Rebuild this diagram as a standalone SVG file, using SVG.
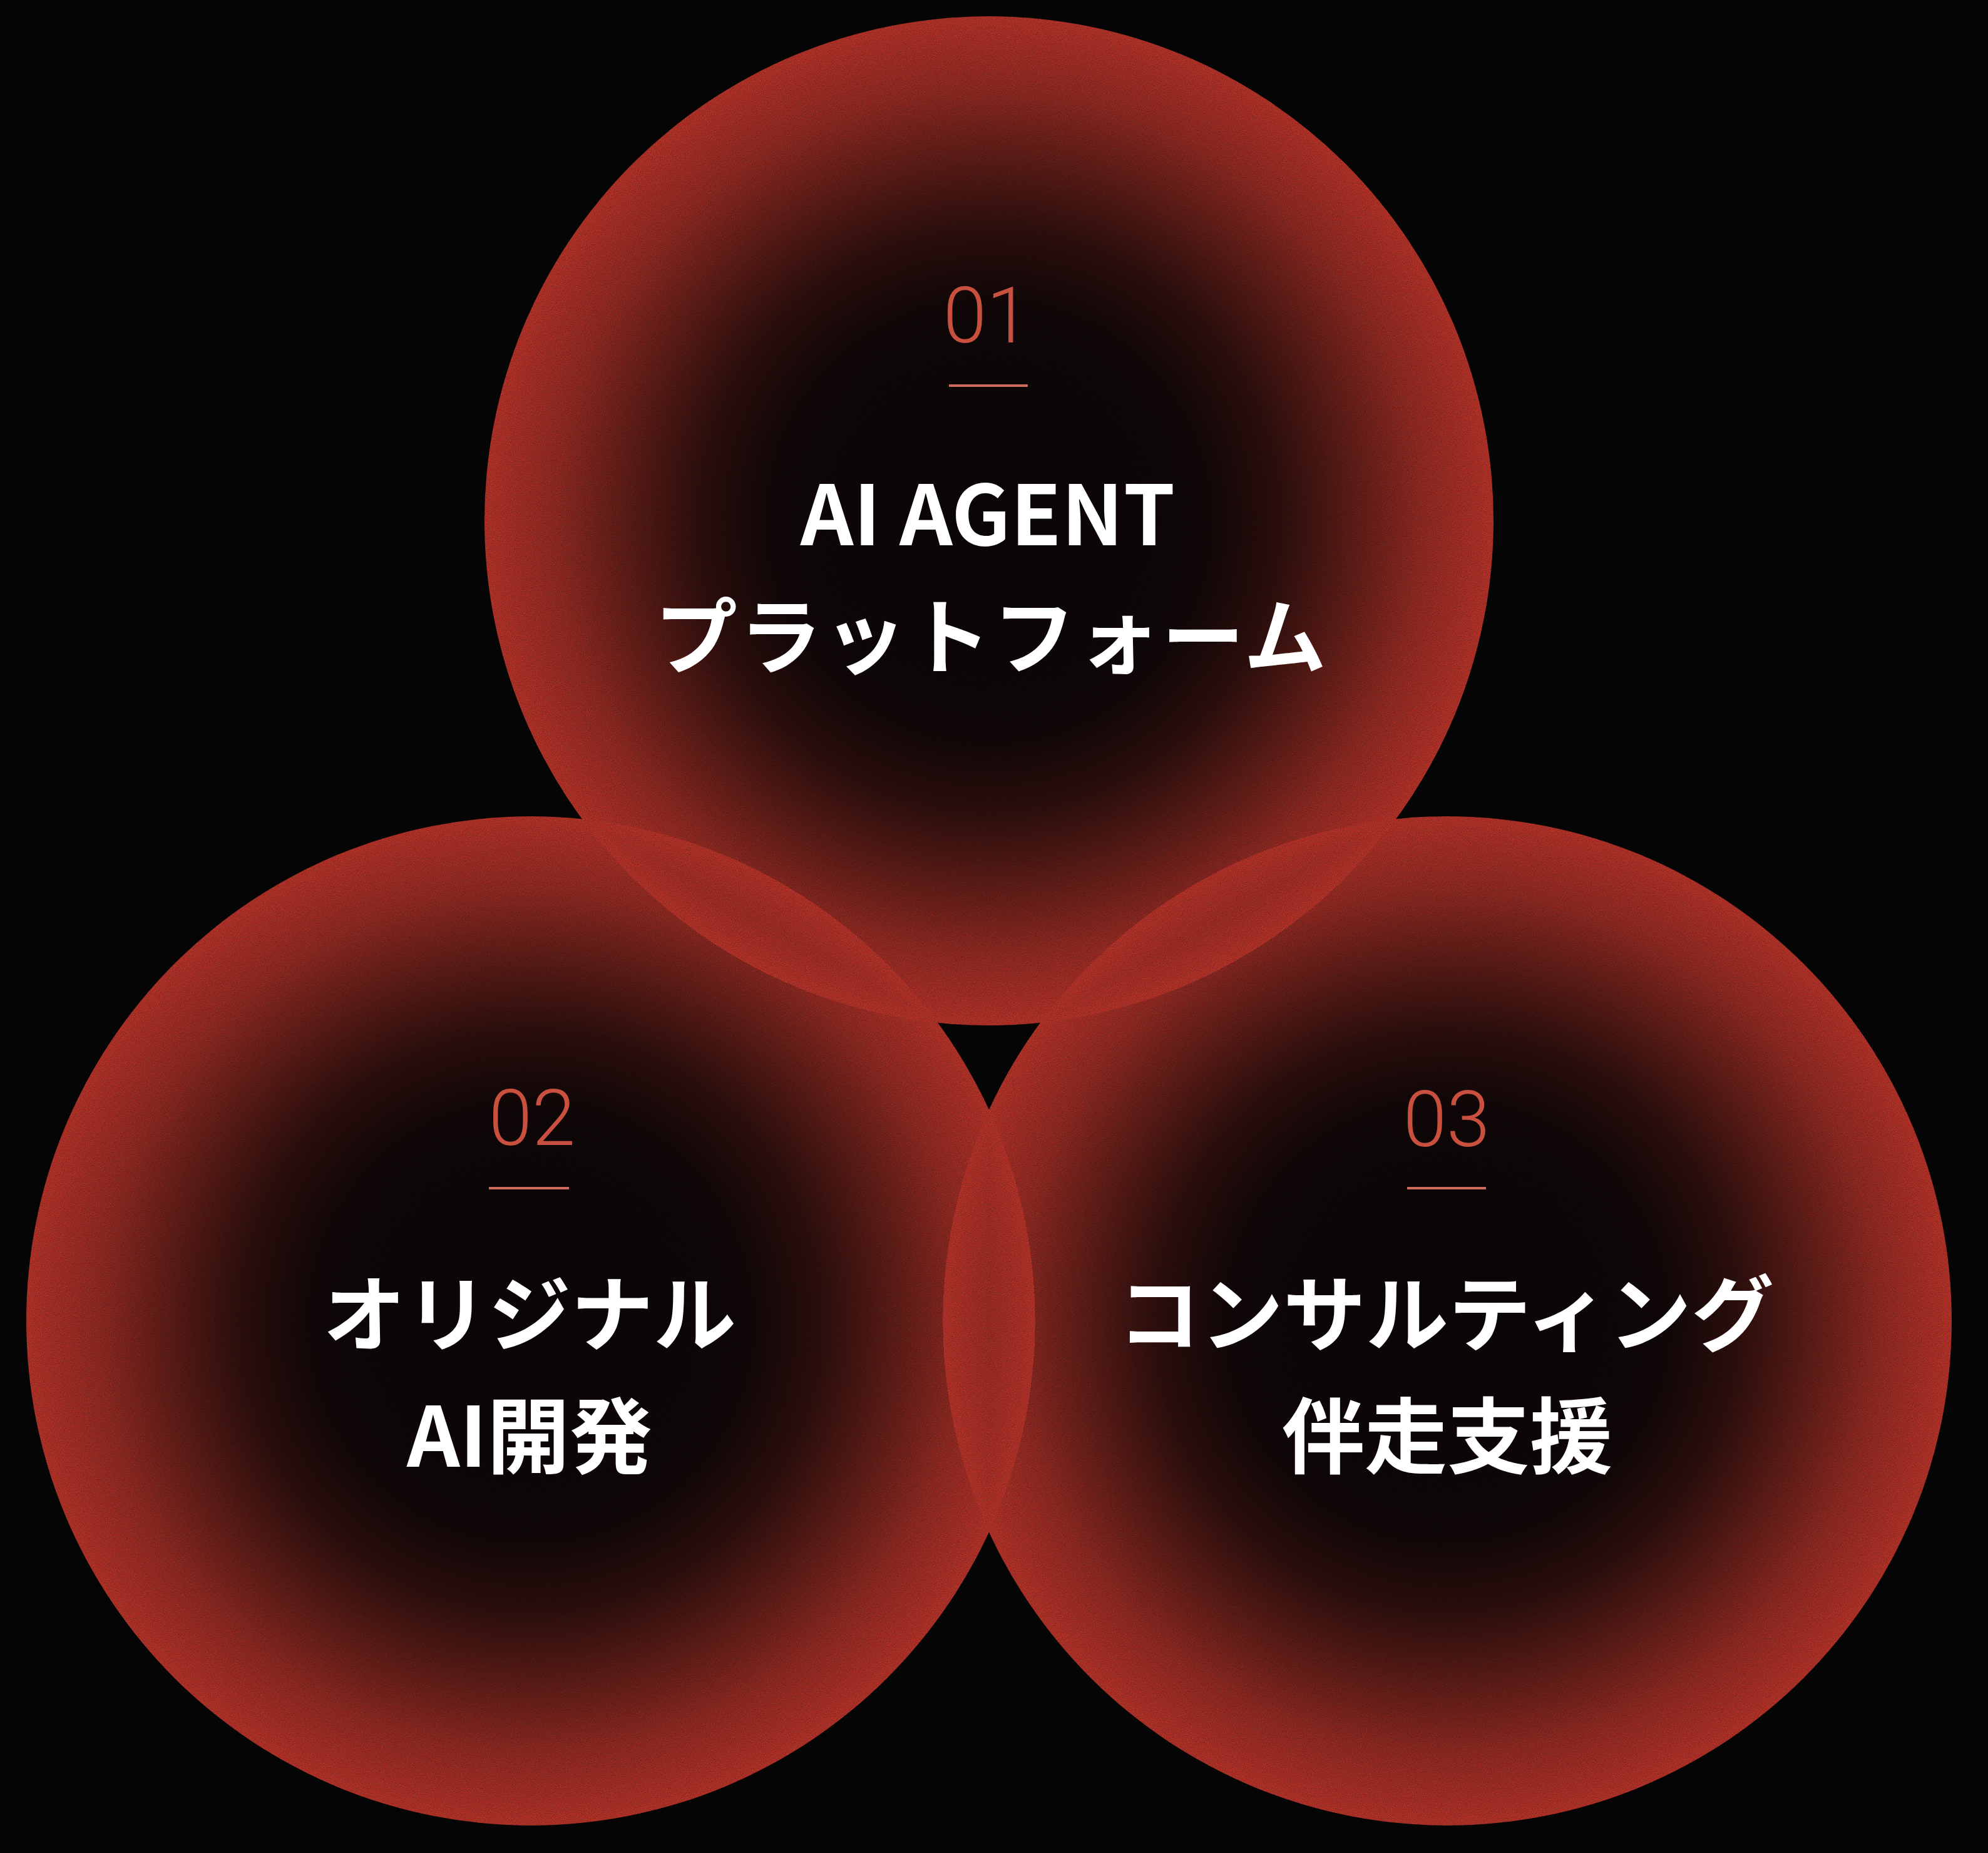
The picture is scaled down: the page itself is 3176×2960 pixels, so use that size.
<svg xmlns="http://www.w3.org/2000/svg" width="3176" height="2960" viewBox="0 0 3176 2960">
<style>
.ball{stroke:none}
.blend{mix-blend-mode:lighten}
.num{font-family:Roboto,"Liberation Sans",sans-serif;font-weight:300;font-size:125px;fill:#c9503f;text-anchor:middle}
.rule{stroke:#cf6a5f;stroke-width:4}
.title{font-family:"Noto Sans CJK JP","Noto Sans",sans-serif;font-weight:700;font-size:132px;fill:#ffffff;text-anchor:middle}
.wide{letter-spacing:3px}
</style>
<defs>
<radialGradient id="glow" cx="0.5" cy="0.5" r="0.5">
<stop offset="0" stop-color="#0a0506"/>
<stop offset="0.42" stop-color="#0e0607"/>
<stop offset="0.58" stop-color="#2a0e0c"/>
<stop offset="0.72" stop-color="#561a15"/>
<stop offset="0.86" stop-color="#84261f"/>
<stop offset="1" stop-color="#a42e25"/>
</radialGradient>
<filter id="grain" x="0" y="0" width="1" height="1" color-interpolation-filters="sRGB">
<feTurbulence type="fractalNoise" baseFrequency="0.85" numOctaves="2" seed="4" result="n"/>
<feColorMatrix in="n" type="matrix" values="0.33 0.33 0.33 0 0  0.33 0.33 0.33 0 0  0.33 0.33 0.33 0 0  0 0 0 0 1" result="g"/>
<feComposite in="SourceGraphic" in2="g" operator="arithmetic" k1="1.2" k2="0.42" k3="0" k4="0"/>
</filter>
</defs>
<rect width="3176" height="2960" fill="#050505"/>
<g id="node-01">
<circle class="ball" cx="1580" cy="832" r="806" fill="url(#glow)" filter="url(#grain)"/>
</g>
<g id="node-02">
<circle class="ball blend" cx="848" cy="2110" r="806" fill="url(#glow)" filter="url(#grain)"/>
</g>
<g id="node-03">
<circle class="ball blend" cx="2312" cy="2110" r="806" fill="url(#glow)" filter="url(#grain)"/>
</g>
<g id="labels-01">
<text class="num" x="1576" y="547">01</text>
<line class="rule" x1="1516" y1="616" x2="1642" y2="616"/>
<text class="title" x="1578" y="871">AI AGENT</text>
<text class="title wide" x="1584" y="1066">プラットフォーム</text>
</g>
<g id="labels-02">
<text class="num" x="850" y="1829">02</text>
<line class="rule" x1="781" y1="1898" x2="909" y2="1898"/>
<text class="title" x="846" y="2148">オリジナル</text>
<text class="title" x="846" y="2343">AI開発</text>
</g>
<g id="labels-03">
<text class="num" x="2311" y="1831">03</text>
<line class="rule" x1="2248" y1="1898" x2="2374" y2="1898"/>
<text class="title" x="2310" y="2148">コンサルティング</text>
<text class="title" x="2312" y="2343">伴走支援</text>
</g>
</svg>
